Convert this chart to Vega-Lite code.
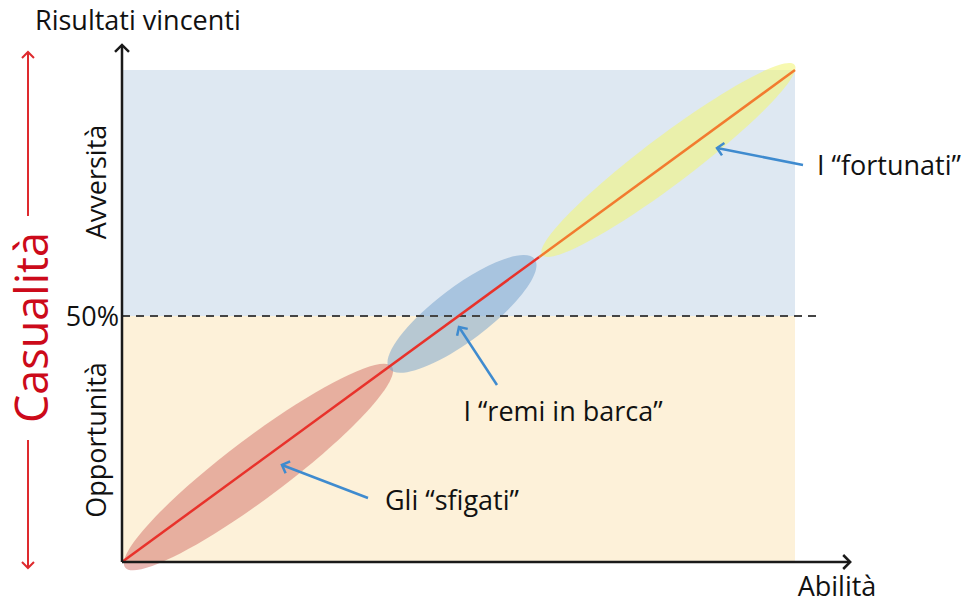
{
  "$schema": "https://vega.github.io/schema/vega-lite/v6.json",
  "width": 971,
  "height": 603,
  "autosize": {"type": "fit", "contains": "padding"},
  "padding": 0,
  "background": "white",
  "config": {"view": {"stroke": null}, "text": {"font": "Open Sans", "fontSize": 27, "color": "#111111", "baseline": "middle"}},
  "encoding": {
    "x": {"field": "x", "type": "quantitative", "scale": {"domain": [-18.128, 126.152], "nice": false, "zero": false}, "axis": null},
    "y": {"field": "y", "type": "quantitative", "scale": {"domain": [-8.333, 114.228], "nice": false, "zero": false}, "axis": null}
  },
  "layer": [
    {
      "data": {"values": [
        {"zona": "Opportunità", "x": 0, "x2": 100, "y": 0, "y2": 50},
        {"zona": "Avversità", "x": 0, "x2": 100, "y": 50, "y2": 100}
      ]},
      "mark": {"type": "rect"},
      "encoding": {
        "x2": {"field": "x2"},
        "y2": {"field": "y2"},
        "color": {"field": "zona", "type": "nominal", "scale": {"domain": ["Opportunità", "Avversità"], "range": ["#fdf1d9", "#dee8f2"]}, "legend": null}
      }
    },
    {
      "data": {"values": [{"gruppo": "sfigati", "x": 20.28, "y": 19.31}]},
      "mark": {"type": "point", "filled": true, "fill": "#d26e66", "fillOpacity": 0.5, "strokeWidth": 0, "angle": 323, "size": 111556,
        "shape": "M-1,0C-1,-0.0994,-0.5523,-0.18,0,-0.18C0.5523,-0.18,1,-0.0994,1,0C1,0.0994,0.5523,0.18,0,0.18C-0.5523,0.18,-1,0.0994,-1,0Z"}
    },
    {
      "data": {"values": [{"gruppo": "remi in barca", "x": 50.52, "y": 50.41}]},
      "mark": {"type": "point", "filled": true, "fill": "#72a0cb", "fillOpacity": 0.5, "strokeWidth": 0, "angle": 323, "size": 33124,
        "shape": "M-1,0C-1,-0.164,-0.5523,-0.297,0,-0.297C0.5523,-0.297,1,-0.164,1,0C1,0.164,0.5523,0.297,0,0.297C-0.5523,0.297,-1,0.164,-1,0Z"}
    },
    {
      "data": {"values": [{"gruppo": "fortunati", "x": 81.2, "y": 81.71}]},
      "mark": {"type": "point", "filled": true, "fill": "#f2f57b", "fillOpacity": 0.6, "strokeWidth": 0, "angle": 323, "size": 99856,
        "shape": "M-1,0C-1,-0.084,-0.5523,-0.152,0,-0.152C0.5523,-0.152,1,-0.084,1,0C1,0.084,0.5523,0.152,0,0.152C-0.5523,0.152,-1,0.084,-1,0Z"}
    },
    {
      "data": {"values": [{"x": 0, "y": 50, "x2": 103.9, "y2": 50}]},
      "mark": {"type": "rule", "color": "#444444", "strokeWidth": 2, "strokeDash": [8, 6]},
      "encoding": {"x2": {"field": "x2"}, "y2": {"field": "y2"}}
    },
    {
      "data": {"values": [{"x": 0, "y": 0, "x2": 62, "y2": 62}]},
      "mark": {"type": "rule", "color": "#e8322b", "strokeWidth": 2.5},
      "encoding": {"x2": {"field": "x2"}, "y2": {"field": "y2"}}
    },
    {
      "data": {"values": [{"x": 62, "y": 62, "x2": 100, "y2": 100}]},
      "mark": {"type": "rule", "color": "#f27b2f", "strokeWidth": 2.5},
      "encoding": {"x2": {"field": "x2"}, "y2": {"field": "y2"}}
    },
    {
      "data": {"values": [{"asse": "Abilità", "x": 0, "y": 0, "x2": 108.2, "y2": 0}, {"asse": "Risultati vincenti", "x": 0, "y": 0, "x2": 0, "y2": 105.1}]},
      "mark": {"type": "rule", "color": "#1a1a1a", "strokeWidth": 2.5},
      "encoding": {"x2": {"field": "x2"}, "y2": {"field": "y2"}}
    },
    {
      "data": {"values": [{"x": 108.2, "y": 0}]},
      "mark": {"type": "point", "filled": false, "stroke": "#1a1a1a", "strokeWidth": 2.5, "opacity": 1, "size": 196, "angle": 0, "shape": "M-1,-1L0,0L-1,1"}
    },
    {
      "data": {"values": [{"x": 0, "y": 105.1}]},
      "mark": {"type": "point", "filled": false, "stroke": "#1a1a1a", "strokeWidth": 2.5, "opacity": 1, "size": 196, "angle": 270, "shape": "M-1,-1L0,0L-1,1"}
    },
    {
      "data": {"values": [{"x": -13.97, "y": 103.66, "x2": -13.97, "y2": 70.33}, {"x": -13.97, "y": 24.8, "x2": -13.97, "y2": -1.22}]},
      "mark": {"type": "rule", "color": "#de2a2e", "strokeWidth": 2},
      "encoding": {"x2": {"field": "x2"}, "y2": {"field": "y2"}}
    },
    {
      "data": {"values": [{"x": -13.97, "y": 103.66}]},
      "mark": {"type": "point", "filled": false, "stroke": "#de2a2e", "strokeWidth": 2, "opacity": 1, "size": 144, "angle": 270, "shape": "M-1,-1L0,0L-1,1"}
    },
    {
      "data": {"values": [{"x": -13.97, "y": -1.22}]},
      "mark": {"type": "point", "filled": false, "stroke": "#de2a2e", "strokeWidth": 2, "opacity": 1, "size": 144, "angle": 90, "shape": "M-1,-1L0,0L-1,1"}
    },
    {
      "data": {"values": [
        {"etichetta": "fortunati", "x": 101.19, "y": 80.69, "x2": 88.41, "y2": 84.15},
        {"etichetta": "remi in barca", "x": 55.72, "y": 35.98, "x2": 50.07, "y2": 47.76},
        {"etichetta": "sfigati", "x": 36.55, "y": 13.01, "x2": 23.77, "y2": 19.72}
      ]},
      "mark": {"type": "rule", "color": "#3f8bcf", "strokeWidth": 2.5},
      "encoding": {"x2": {"field": "x2"}, "y2": {"field": "y2"}}
    },
    {
      "data": {"values": [{"x": 88.41, "y": 84.15}]},
      "mark": {"type": "point", "filled": false, "stroke": "#3f8bcf", "strokeWidth": 2.5, "opacity": 1, "size": 160, "angle": 191, "shape": "M-1,-1L0,0L-1,1"}
    },
    {
      "data": {"values": [{"x": 50.07, "y": 47.76}]},
      "mark": {"type": "point", "filled": false, "stroke": "#3f8bcf", "strokeWidth": 2.5, "opacity": 1, "size": 160, "angle": 237, "shape": "M-1,-1L0,0L-1,1"}
    },
    {
      "data": {"values": [{"x": 23.77, "y": 19.72}]},
      "mark": {"type": "point", "filled": false, "stroke": "#3f8bcf", "strokeWidth": 2.5, "opacity": 1, "size": 160, "angle": 201, "shape": "M-1,-1L0,0L-1,1"}
    },
    {
      "data": {"values": [
        {"testo": "Risultati vincenti", "x": -12.93, "y": 109.76},
        {"testo": "I “fortunati”", "x": 103.27, "y": 80.28}
      ]},
      "mark": {"type": "text", "align": "left"},
      "encoding": {"text": {"field": "testo"}}
    },
    {
      "data": {"values": [
        {"testo": "Abilità", "x": 106.24, "y": -5.28},
        {"testo": "I “remi in barca”", "x": 65.53, "y": 30.28},
        {"testo": "Gli “sfigati”", "x": 49.03, "y": 12.2}
      ]},
      "mark": {"type": "text", "align": "center"},
      "encoding": {"text": {"field": "testo"}}
    },
    {
      "data": {"values": [{"testo": "50%", "x": -0.45, "y": 49.59}]},
      "mark": {"type": "text", "align": "right"},
      "encoding": {"text": {"field": "testo"}}
    },
    {
      "data": {"values": [
        {"testo": "Avversità", "x": -3.57, "y": 77.24},
        {"testo": "Opportunità", "x": -3.57, "y": 24.8}
      ]},
      "mark": {"type": "text", "align": "center", "angle": 270},
      "encoding": {"text": {"field": "testo"}}
    },
    {
      "data": {"values": [{"testo": "Casualità", "x": -13.08, "y": 47.66}]},
      "mark": {"type": "text", "align": "center", "angle": 270, "fontSize": 45, "color": "#cc0a1a"},
      "encoding": {"text": {"field": "testo"}}
    }
  ]
}
